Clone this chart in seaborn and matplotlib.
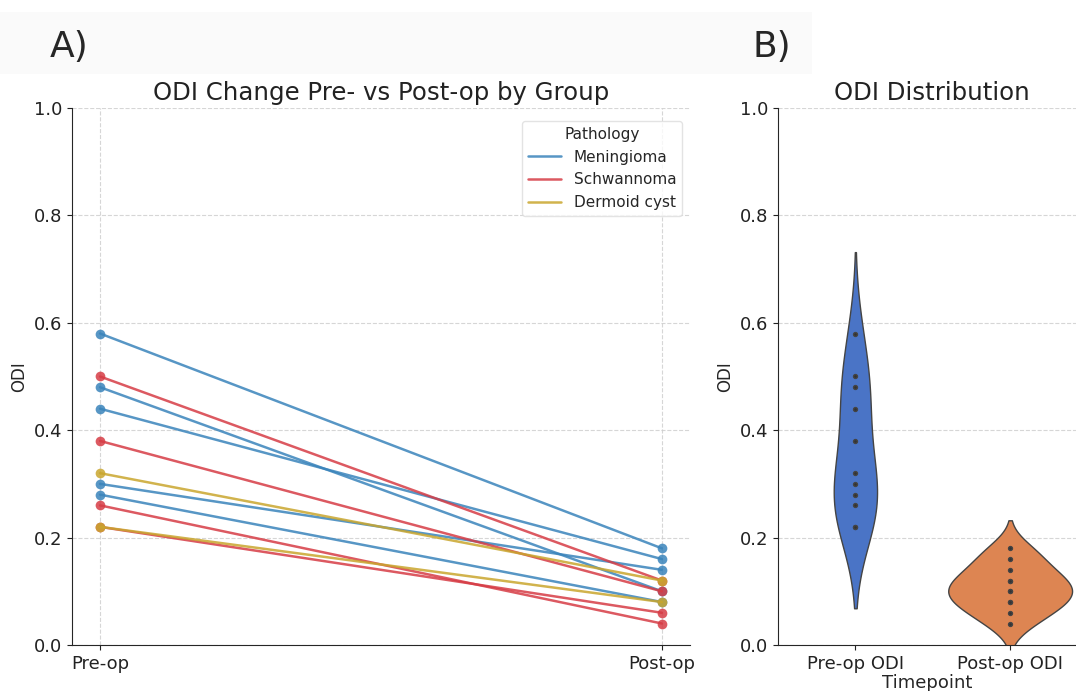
import matplotlib
matplotlib.use("Agg")
import matplotlib.pyplot as plt
from matplotlib.lines import Line2D
from matplotlib.patches import Rectangle
import seaborn as sns
import pandas as pd

# ---- data ----
pathology = ["Meningioma", "Meningioma", "Meningioma", "Meningioma", "Meningioma",
             "Schwannoma", "Schwannoma", "Schwannoma", "Schwannoma",
             "Dermoid cyst", "Dermoid cyst"]
pre_odi = [0.58, 0.48, 0.44, 0.30, 0.28, 0.50, 0.38, 0.26, 0.22, 0.32, 0.22]
post_odi = [0.18, 0.10, 0.16, 0.14, 0.08, 0.12, 0.10, 0.04, 0.06, 0.12, 0.08]
timepoints = ["Pre-op", "Post-op"]
violin_labels = ["Pre-op ODI", "Post-op ODI"]
groups = ["Meningioma", "Schwannoma", "Dermoid cyst"]

group_colors = {"Meningioma": "#3a84bb", "Schwannoma": "#d63c45", "Dermoid cyst": "#c9a62e"}
violin_colors = {"Pre-op ODI": "#4a74c6", "Post-op ODI": "#dd8552"}

rows = []
for i, (g, a, b) in enumerate(zip(pathology, pre_odi, post_odi)):
    rows.append({"patient": i, "Pathology": g, "Timepoint": timepoints[0], "ODI": a})
    rows.append({"patient": i, "Pathology": g, "Timepoint": timepoints[1], "ODI": b})
long_df = pd.DataFrame(rows)

vrows = [{"Timepoint": violin_labels[0], "ODI": v} for v in pre_odi] + \
        [{"Timepoint": violin_labels[1], "ODI": v} for v in post_odi]
vdf = pd.DataFrame(vrows)

sns.set_style("ticks")
plt.rcParams["font.family"] = ["DejaVu Sans"]

W, H = 1076, 691
fig = plt.figure(figsize=(W / 100, H / 100), dpi=100)
fig.patches.append(Rectangle((0, 1 - 74 / H), 812 / W, 62 / H, transform=fig.transFigure,
                             facecolor="#fafafa", edgecolor="none", zorder=0))

ax1 = fig.add_axes([72 / W, 46 / H, 618 / W, 537 / H])
ax2 = fig.add_axes([778 / W, 46 / H, 298 / W, 537 / H])

# ---- panel A ----
for g in groups:
    sub = long_df[long_df["Pathology"] == g]
    sns.lineplot(data=sub, x="Timepoint", y="ODI", units="patient", estimator=None,
                 color=group_colors[g], marker="o", markersize=7, markeredgewidth=0,
                 linewidth=1.8, alpha=0.85, ax=ax1, legend=False, sort=False)

ax1.set_xlim(-0.05, 1.05)
ax1.set_ylim(0, 1.0)
ax1.set_yticks([0, 0.2, 0.4, 0.6, 0.8, 1.0])
ax1.set_xlabel("")
ax1.set_ylabel("ODI", fontsize=12)
ax1.set_title("ODI Change Pre- vs Post-op by Group", fontsize=17.6, pad=6, color="#222222")
ax1.grid(True, linestyle="--", linewidth=0.8, color="#cccccc", alpha=0.8)
ax1.set_axisbelow(True)
ax1.tick_params(labelsize=13, colors="#222222")
for s in ["top", "right"]:
    ax1.spines[s].set_visible(False)

handles = [Line2D([0], [0], color=group_colors[g], lw=1.8, alpha=0.85) for g in groups]
leg = ax1.legend(handles, groups, title="Pathology", loc="upper right",
                 bbox_to_anchor=(1.0, 0.99), fontsize=11, title_fontsize=11,
                 frameon=True, handlelength=2.2)
leg.get_frame().set_edgecolor("#dddddd")

# ---- panel B ----
sns.violinplot(data=vdf, x="Timepoint", y="ODI", hue="Timepoint", order=violin_labels,
               palette=violin_colors, saturation=1, inner="point", linewidth=1,
               linecolor="#444444", inner_kws={"s": 8, "color": "#333333"},
               density_norm="area", common_norm=True,
               legend=False, ax=ax2)
ax2.set_xlim(-0.5, 1.5 - 11.5 / 154.3)
ax2.set_ylim(0, 1.0)
ax2.set_yticks([0, 0.2, 0.4, 0.6, 0.8, 1.0])
ax2.set_ylabel("ODI", fontsize=12)
ax2.set_xlabel("Timepoint", fontsize=13, labelpad=1)
ax2.set_title("ODI Distribution", fontsize=17.6, pad=6, x=(932 - 778) / 298, color="#222222")
ax2.yaxis.grid(True, linestyle="--", linewidth=0.8, color="#cccccc", alpha=0.8)
ax2.set_axisbelow(True)
ax2.tick_params(labelsize=13, colors="#222222")
for s in ["top", "right"]:
    ax2.spines[s].set_visible(False)

fig.text(50 / W, 1 - 47 / H, "A)", fontsize=26, va="center", ha="left")
fig.text(752 / W, 1 - 47 / H, "B)", fontsize=26, va="center", ha="left")

fig.savefig("out.png", dpi=100)
